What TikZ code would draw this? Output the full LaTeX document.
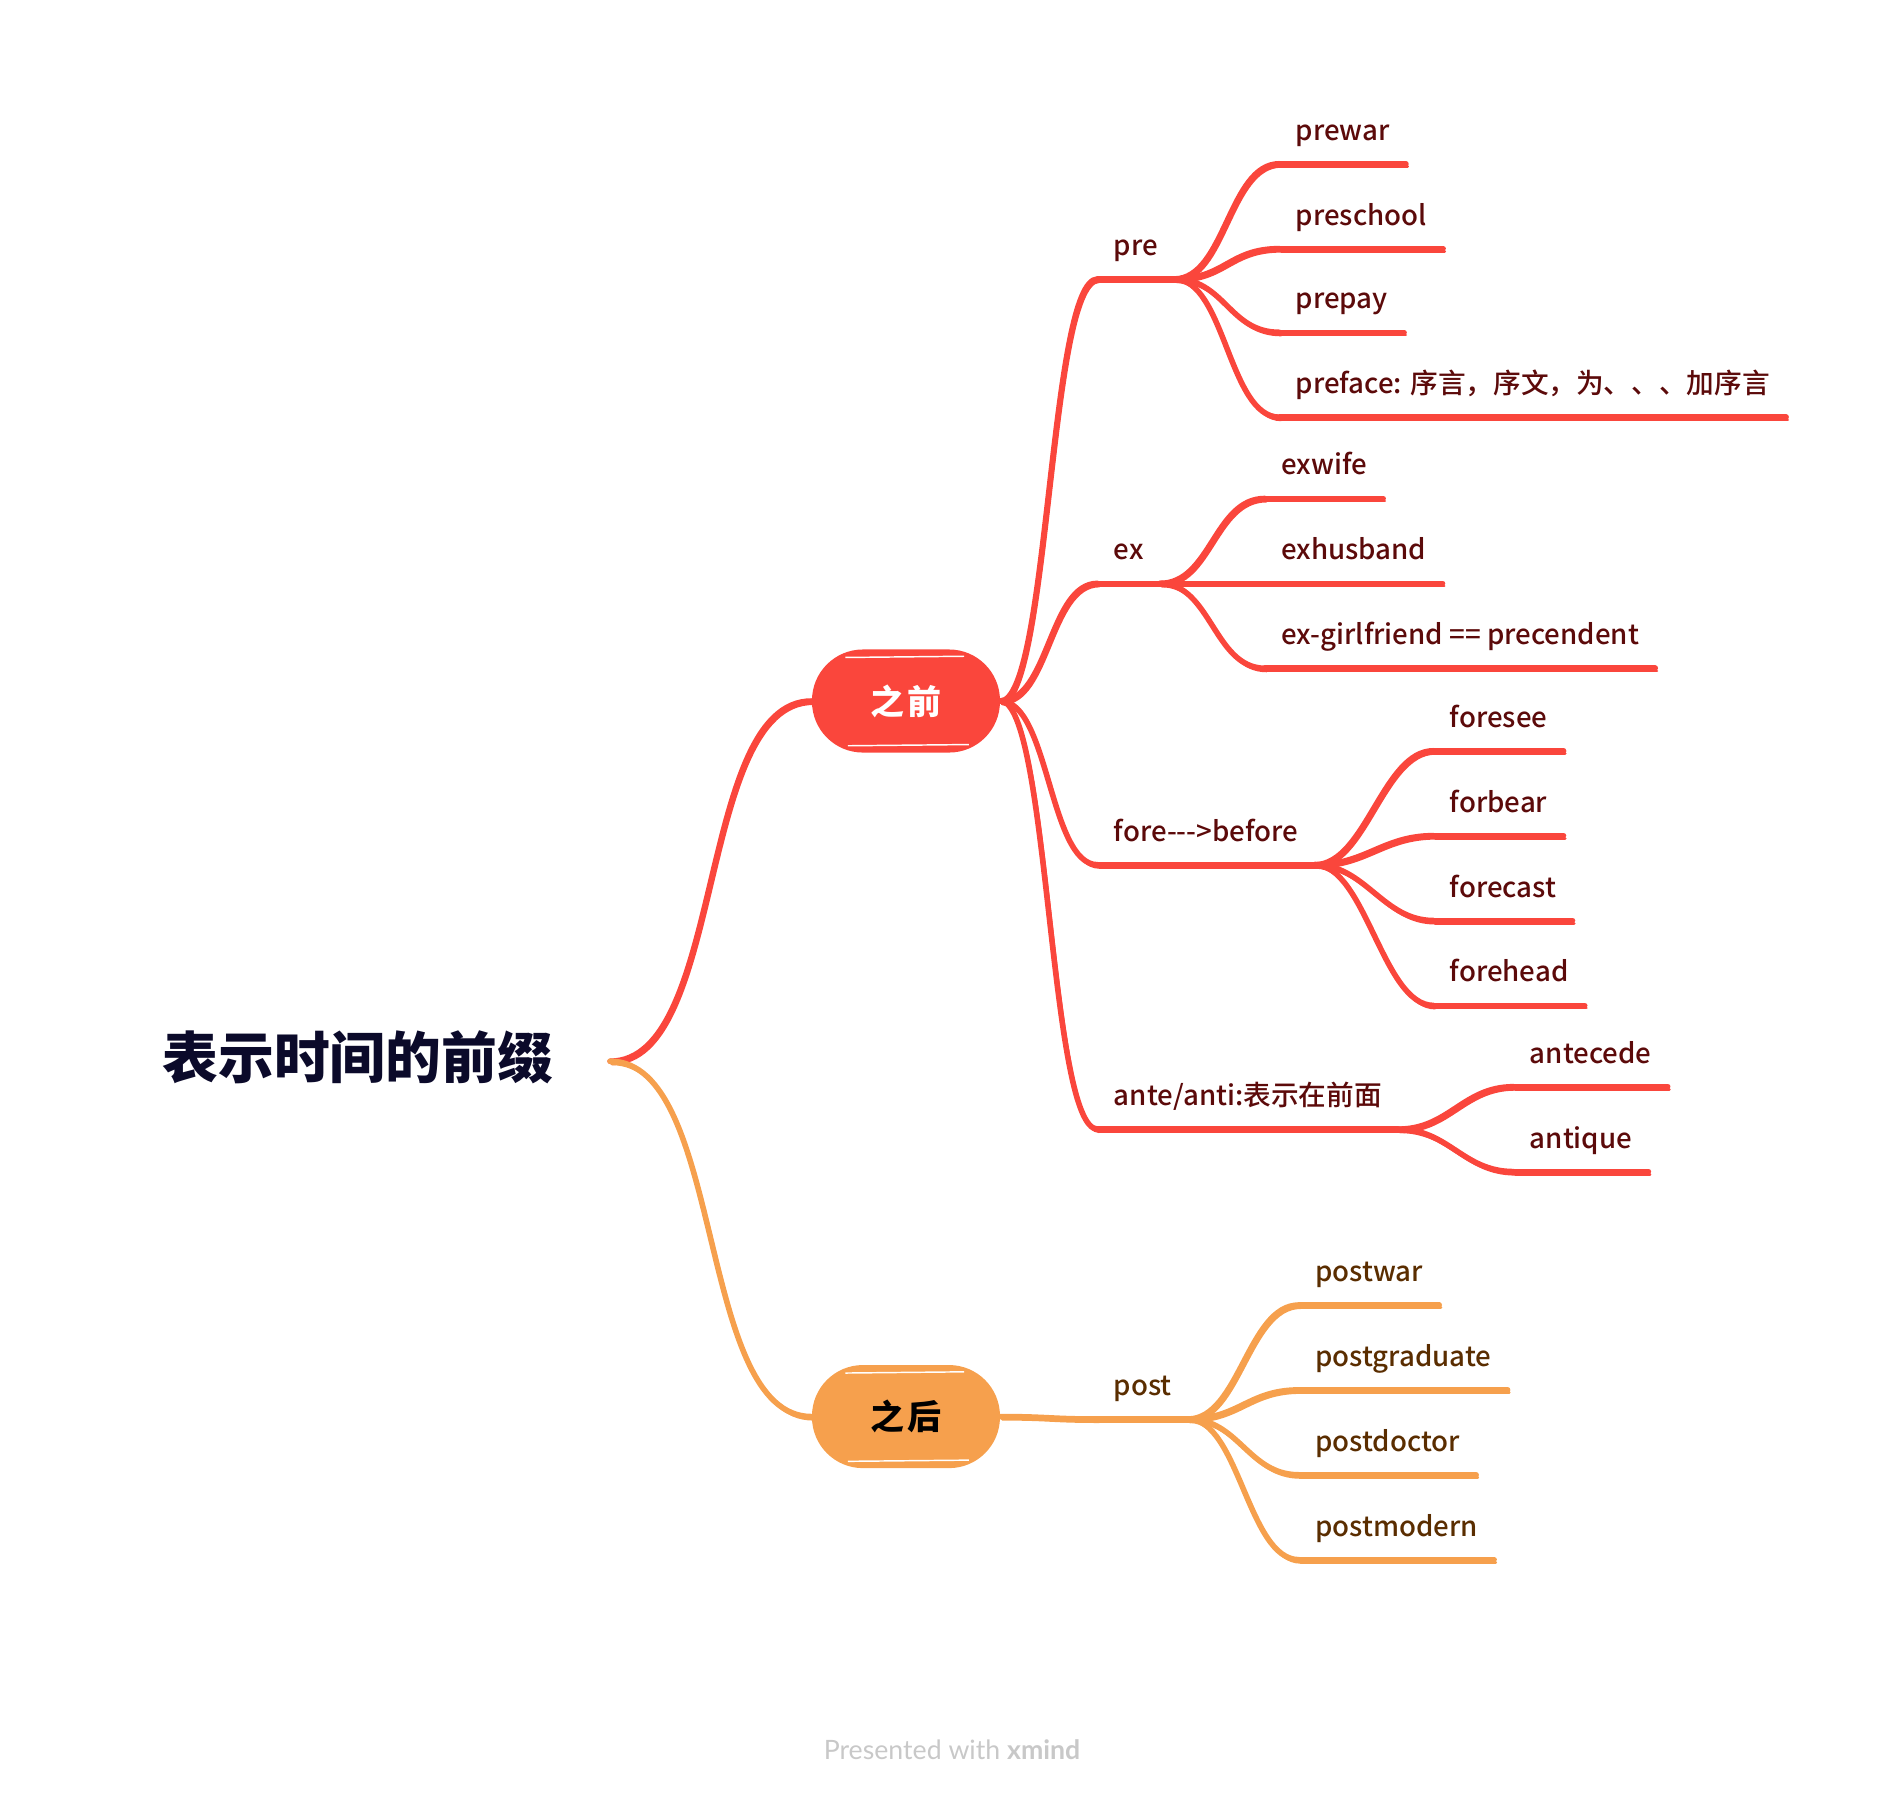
\documentclass[tikz,border=0pt]{standalone}
\usepackage{fontspec}
\setmainfont{Noto Sans CJK SC}
\newfontfamily\medfont{Noto Sans CJK SC Medium}
\newfontfamily\footfont{Lato}
\usetikzlibrary{calc}
\definecolor{cred}{HTML}{FA463C}
\definecolor{corg}{HTML}{F6A04D}
\definecolor{tred}{HTML}{5C0A0A}
\definecolor{torg}{HTML}{5A2D00}
\definecolor{troot}{HTML}{0B0A2A}
\definecolor{foot}{HTML}{C8C8C8}
\tikzset{
  cr/.style={draw=cred, line width=2.3pt, line cap=round,
    preaction={draw=cred, line width=1.1pt, line cap=round, transform canvas={shift={(0.7pt,-1.1pt)}}}},
  co/.style={draw=corg, line width=2.3pt, line cap=round,
    preaction={draw=corg, line width=1.1pt, line cap=round, transform canvas={shift={(0.7pt,-1.1pt)}}}},
  lbl/.style={anchor=south west, inner xsep=6.5pt, inner ysep=9.5pt, text depth=0pt,
    font=\medfont\fontsize{11.4}{14}\selectfont},
  lr/.style={lbl, text=tred},
  lo/.style={lbl, text=torg},
  mainbox/.style={minimum width=77.5pt, minimum height=42.5pt, rounded corners=21pt,
    inner sep=0pt, font=\bfseries\fontsize{14}{17}\selectfont},
}
\begin{document}
\begin{tikzpicture}[x=0.5pt,y=-0.5pt]
\useasboundingbox (0,0) rectangle (1560,1477.6);
% root
\node[font=\bfseries\fontsize{23}{27}\selectfont, text=troot, inner sep=0pt] (root) at (295,872) {表示时间的前缀};
\coordinate (rootc) at (503,875);
% main topics
\node[mainbox, fill=cred, text=white] (m1) at (747,578) {之\kern1.5pt前};
\node[mainbox, fill=corg, text=black] (m2) at (747,1168) {之\kern1.5pt后};
\draw[cr] (rootc) .. controls +(95,0) and +(-95,0) .. (m1.west);
\draw[co] (rootc) .. controls +(95,0) and +(-95,0) .. (m2.west);
% white sketch strokes on main topics
\foreach \m in {m1,m2}{
  \draw[white, line width=0.6pt] ($(\m.north west)+(28,7)$) -- ($(\m.north east)+(-30,6)$);
  \draw[white, line width=0.6pt] ($(\m.south west)+(30,-6)$) -- ($(\m.south east)+(-26,-7)$);
}
% ---- pre
\node[lr] (pre) at (905,230) {pre};
\draw[cr] (pre.south west) -- (pre.south east);
\draw[cr] (m1.east) .. controls +(40,0) and +(-40,0) .. (pre.south west);
\node[lr] (prewar) at (1055,135) {prewar};
\node[lr] (preschool) at (1055,205) {preschool};
\node[lr] (prepay) at (1055,274) {prepay};
\node[lr] (preface) at (1055,344) {preface: 序言，序文，为、、、加序言};
\foreach \n in {prewar,preschool,prepay,preface}{
  \draw[cr] (\n.south west) -- (\n.south east);
  \draw[cr] (pre.south east) .. controls +(42,0) and +(-42,0) .. (\n.south west);
}
% ---- ex
\node[lr] (ex) at (905,481) {ex};
\draw[cr] (ex.south west) -- (ex.south east);
\draw[cr] (m1.east) .. controls +(40,0) and +(-40,0) .. (ex.south west);
\node[lr] (exwife) at (1043,411) {exwife};
\node[lr] (exhusband) at (1043,481) {exhusband};
\node[lr] (exgf) at (1043,551) {ex-girlfriend == precendent};
\foreach \n in {exwife,exhusband,exgf}{
  \draw[cr] (\n.south west) -- (\n.south east);
  \draw[cr] (ex.south east) .. controls +(42,0) and +(-42,0) .. (\n.south west);
}
% ---- fore
\node[lr] (fore) at (905,713) {fore--{}->before};
\draw[cr] (fore.south west) -- (fore.south east);
\draw[cr] (m1.east) .. controls +(40,0) and +(-40,0) .. (fore.south west);
\node[lr] (foresee) at (1182,619) {foresee};
\node[lr] (forbear) at (1182,689) {forbear};
\node[lr] (forecast) at (1182,759) {forecast};
\node[lr] (forehead) at (1182,829) {forehead};
\foreach \n in {foresee,forbear,forecast,forehead}{
  \draw[cr] (\n.south west) -- (\n.south east);
  \draw[cr] (fore.south east) .. controls +(42,0) and +(-42,0) .. (\n.south west);
}
% ---- ante
\node[lr] (ante) at (905,931) {ante/anti:表示在前面};
\draw[cr] (ante.south west) -- (ante.south east);
\draw[cr] (m1.east) .. controls +(40,0) and +(-40,0) .. (ante.south west);
\node[lr] (antecede) at (1248,896) {antecede};
\node[lr] (antique) at (1248,966) {antique};
\foreach \n in {antecede,antique}{
  \draw[cr] (\n.south west) -- (\n.south east);
  \draw[cr] (ante.south east) .. controls +(42,0) and +(-42,0) .. (\n.south west);
}
% ---- post
\node[lo] (post) at (905,1170) {post};
\draw[co] (post.south west) -- (post.south east);
\draw[co] (m2.east) .. controls +(40,0) and +(-40,0) .. (post.south west);
\node[lo] (postwar) at (1071,1076) {postwar};
\node[lo] (postgraduate) at (1071,1146) {postgraduate};
\node[lo] (postdoctor) at (1071,1216) {postdoctor};
\node[lo] (postmodern) at (1071,1286) {postmodern};
\foreach \n in {postwar,postgraduate,postdoctor,postmodern}{
  \draw[co] (\n.south west) -- (\n.south east);
  \draw[co] (post.south east) .. controls +(42,0) and +(-42,0) .. (\n.south west);
}
% footer
\node[font=\footfont\fontsize{11}{13}\selectfont, text=foot] (footer) at (785,1443) {Presented with \textbf{xmind}};
\end{tikzpicture}
\end{document}
